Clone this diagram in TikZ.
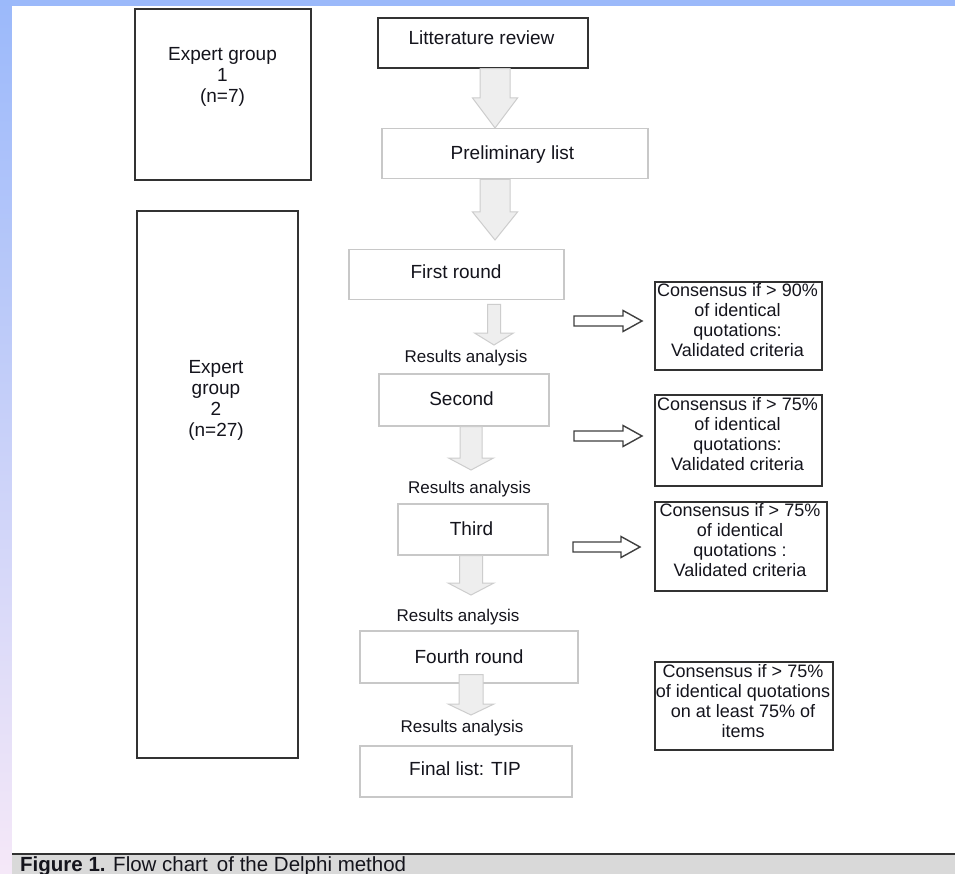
\documentclass[tikz,border=0pt]{standalone}
\usepackage{fontspec}
\setmainfont{Liberation Sans}
\usetikzlibrary{calc}
\definecolor{txt}{RGB}{20,20,28}
\definecolor{dk}{RGB}{50,50,50}
\definecolor{lt}{RGB}{200,200,200}
\definecolor{arrfill}{RGB}{238,238,238}
\definecolor{arrdraw}{RGB}{205,205,205}
\definecolor{odk}{RGB}{64,64,64}
\definecolor{stripblue}{RGB}{155,185,250}
\definecolor{stripbot}{RGB}{245,232,248}
\definecolor{capgray}{RGB}{217,217,217}
\newcommand\mylines[1]{\begin{tabular}[t]{@{}c@{}}#1\end{tabular}}
\newcommand\bx[6]{\node[#2, minimum width={(#5-#3)*1pt}, minimum height={(#6-#4)*1pt}] (#1) at (#3,#4) {};}
% down block arrow: #1 x, #2 top point, #3 tip point, #4 shaft half, #5 head half, #6 head length
\newcommand\downarr[6]{%
  \path[blockarr] let \p1=(#2), \p2=(#3) in
   ({(#1-#4)*1pt},\y1) -- ({(#1+#4)*1pt},\y1) -- ({(#1+#4)*1pt},\y2+#6pt)
   -- ({(#1+#5)*1pt},\y2+#6pt) -- ({#1*1pt},\y2) -- ({(#1-#5)*1pt},\y2+#6pt)
   -- ({(#1-#4)*1pt},\y2+#6pt) -- cycle;}
% right outline arrow: #1 from, #2 to, #3 shaft half, #4 head half, #5 head length
\newcommand\rightarr[5]{%
  \path[outarr] let \p1=(#1), \p2=(#2) in
   (\x1,\y1+#3pt) -- (\x2-#5pt,\y1+#3pt) -- (\x2-#5pt,\y1+#4pt) -- (\x2,\y1)
   -- (\x2-#5pt,\y1-#4pt) -- (\x2-#5pt,\y1-#3pt) -- (\x1,\y1-#3pt) -- cycle;}
\begin{document}
\begin{tikzpicture}[x=1pt,y=-1pt,
  every node/.style={text=txt},
  darkbox/.style={draw=dk, line width=1.6pt, fill=white, inner sep=0pt, anchor=north west},
  lightbox/.style={draw=lt, line width=1.5pt, fill=white, inner sep=0pt, anchor=north west},
  boxtxt/.style={font=\fontsize{19}{21}\selectfont, inner sep=0pt, anchor=base},
  restxt/.style={font=\fontsize{17}{20}\selectfont, inner sep=0pt, anchor=base},
  constxt/.style={font=\fontsize{18}{20}\selectfont, inner sep=0pt, anchor=base},
  exptxt/.style={font=\fontsize{19}{21}\selectfont, inner sep=0pt, anchor=base},
  captxt/.style={font=\fontsize{20.5}{22}\selectfont, inner sep=0pt, anchor=base west},
  blockarr/.style={fill=arrfill, draw=arrdraw, line width=1pt, line join=miter},
  outarr/.style={fill=white, draw=odk, line width=1.4pt, line join=miter},
]
\useasboundingbox (0,0) rectangle (955,874);
% background
\shade[top color=stripblue, bottom color=stripbot] (0,0) rectangle (12,874);
\fill[stripblue] (0,0) rectangle (955,6);
\fill[white] (12,6) rectangle (955,853);
\fill[capgray] (12,853) rectangle (955,874);
\draw[dk, line width=2pt] (12,853.5) -- (955,853.5);
\node[captxt] (cap) at (20,871.5) {\textbf{Figure 1.} Flow chart\hspace{0.45em}of the Delphi method};

% left expert boxes
\bx{eg1}{darkbox}{134}{8}{310}{179}
\node[exptxt] (eg1t) at (222.5,61) {\mylines{Expert group\\1\\(n=7)}};
\bx{eg2}{darkbox}{136}{210}{297}{757}
\node[exptxt] (eg2t) at (216,373) {\mylines{Expert\\group\\2\\(n=27)}};

% main column boxes
\bx{lit}{darkbox}{377}{17}{587}{67}
\node[boxtxt] (litt) at (481.5,45) {Litterature review};
\bx{pre}{lightbox}{381}{128}{647}{178}
\node[boxtxt] (pret) at (512.5,160) {Preliminary list};
\bx{first}{lightbox}{348}{249}{563}{299}
\node[boxtxt] (firstt) at (456,279) {First round};
\node[restxt] (ra1) at (466,362) {Results analysis};
\bx{sec}{lightbox}{378}{373}{548}{425}
\node[boxtxt] (sect) at (461.5,405) {Second};
\node[restxt] (ra2) at (469.5,493) {Results analysis};
\bx{third}{lightbox}{397}{503}{547}{554}
\node[boxtxt] (thirdt) at (471.5,535) {Third};
\node[restxt] (ra3) at (458,621) {Results analysis};
\bx{fourth}{lightbox}{359}{630}{577}{682}
\node[boxtxt] (fourtht) at (469,663.5) {Fourth round};
\node[restxt] (ra4) at (462,732.5) {Results analysis};
\bx{final}{lightbox}{359}{745}{571}{796}
\node[boxtxt] (finalt) at (465,775.5) {Final list: TIP};

% consensus boxes
\bx{c1}{darkbox}{654}{281}{821}{369}
\node[constxt] (c1t) at (737.5,297) {\mylines{Consensus if > 90\%\\of identical\\quotations:\\Validated criteria}};
\bx{c2}{darkbox}{654}{394}{821}{485}
\node[constxt] (c2t) at (737.5,410) {\mylines{Consensus if > 75\%\\of identical\\quotations:\\Validated criteria}};
\bx{c3}{darkbox}{654}{501}{826}{590}
\node[constxt] (c3t) at (740,516.5) {\mylines{Consensus if > 75\%\\of identical\\quotations :\\Validated criteria}};
\bx{c4}{darkbox}{654}{661}{832}{749}
\node[constxt] (c4t) at (743,677) {\mylines{Consensus if > 75\%\\of identical quotations\\on at least 75\% of\\items}};

% tips of the down arrows that point at the labels
\coordinate (tip2) at (495,240);
\coordinate (tip3) at (494,345);
\coordinate (tip4) at (471,470);
\coordinate (tip5) at (471,595);
\coordinate (tip6) at (471,715);

% down block arrows
\downarr{495}{lit.south}{pre.north}{15}{22.5}{30}
\downarr{495}{pre.south}{tip2}{15}{22.5}{28}
\downarr{494}{$(first.south)+(0,4)$}{tip3}{6.5}{19.5}{12}
\downarr{471}{sec.south}{tip4}{11}{22.5}{12}
\downarr{471}{third.south}{tip5}{11.5}{23}{12}
\downarr{471}{$(fourth.south)+(0,-9)$}{tip6}{12}{23}{11}

% right outline arrows
\coordinate (r1a) at (574,321);
\coordinate (r1b) at (642,321);
\coordinate (r2a) at (574,436);
\coordinate (r2b) at (642,436);
\coordinate (r3a) at (573,547);
\coordinate (r3b) at (640,547);
\rightarr{r1a}{r1b}{5}{10.5}{19}
\rightarr{r2a}{r2b}{5}{10.5}{19}
\rightarr{r3a}{r3b}{5}{10.5}{19}
\end{tikzpicture}
\end{document}
